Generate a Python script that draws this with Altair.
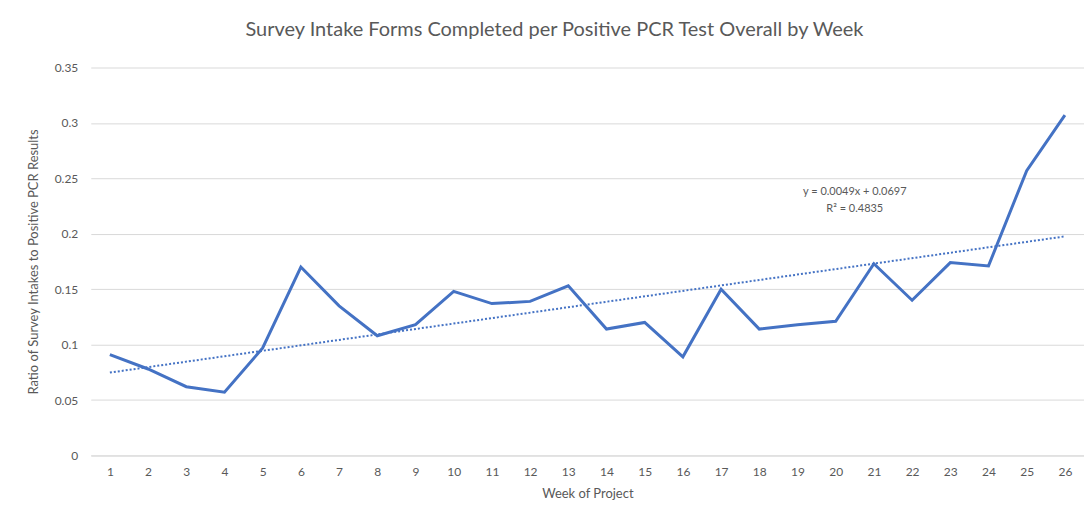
import altair as alt
import pandas as pd

weeks = list(range(1, 27))
ratios = [0.091, 0.078, 0.062, 0.057, 0.097, 0.170, 0.135, 0.108, 0.118, 0.148,
          0.137, 0.139, 0.153, 0.114, 0.120, 0.089, 0.150, 0.114, 0.118, 0.121,
          0.173, 0.140, 0.174, 0.171, 0.257, 0.307]
y_ticks = [0, 0.05, 0.1, 0.15, 0.2, 0.25, 0.3, 0.35]
anno_text = ["y = 0.0049x + 0.0697", "R\u00b2 = 0.4835"]
anno_x = [20.5, 20.5]
anno_y = [0.238, 0.2225]

df = pd.DataFrame({"week": weeks, "ratio": ratios})
anno = pd.DataFrame({"week": anno_x, "ratio": anno_y, "text": anno_text})

FONT = "Lato"
GREY = "#595959"
BLUE = "#4472C4"

x_axis = alt.Axis(values=weeks, title="Week of Project", grid=False,
                  ticks=False, domain=True, domainColor="#d9d9d9",
                  labelPadding=11, titlePadding=10, labelFlush=False,
                  labelOverlap=False, labelBound=False, format="d")
y_axis = alt.Axis(values=y_ticks, title="Ratio of Survey Intakes to Positive PCR Results",
                  format="~g", grid=True, gridColor="#d9d9d9", ticks=False,
                  domain=False, labelPadding=13, titlePadding=14, labelOverlap=False)
x_enc = alt.X("week:Q", scale=alt.Scale(domain=[0.5, 26.5], nice=False, zero=False), axis=x_axis)
y_enc = alt.Y("ratio:Q", scale=alt.Scale(domain=[0, 0.35], nice=False), axis=y_axis)

base = alt.Chart(df)
line = base.mark_line(color=BLUE, strokeWidth=3).encode(x=x_enc, y=y_enc)
trend = base.transform_regression("week", "ratio", method="linear", extent=[1, 26]).mark_line(
    color=BLUE, strokeWidth=2, strokeDash=[2, 2]).encode(x=x_enc, y=y_enc)
labels = alt.Chart(anno).mark_text(font=FONT, fontSize=11, color=GREY).encode(
    x=x_enc, y=y_enc, text="text:N")

chart = alt.layer(line, trend, labels).properties(
    width=996, height=389,
    title=alt.TitleParams("Survey Intake Forms Completed per Positive PCR Test Overall by Week",
                          font=FONT, fontSize=20, fontWeight="normal", color=GREY,
                          offset=22, dx=-33),
    autosize=alt.AutoSizeParams(type="none"),
    padding={"left": 83, "top": 59, "right": 0, "bottom": 45},
).configure_view(stroke=None).configure_axis(
    labelFont=FONT, titleFont=FONT, labelColor=GREY, titleColor=GREY,
    labelFontSize=12, titleFontSize=13, titleFontWeight="normal", labelOverlap=False
)

chart.save("out.html", embed_options={"renderer": "svg", "actions": False})
